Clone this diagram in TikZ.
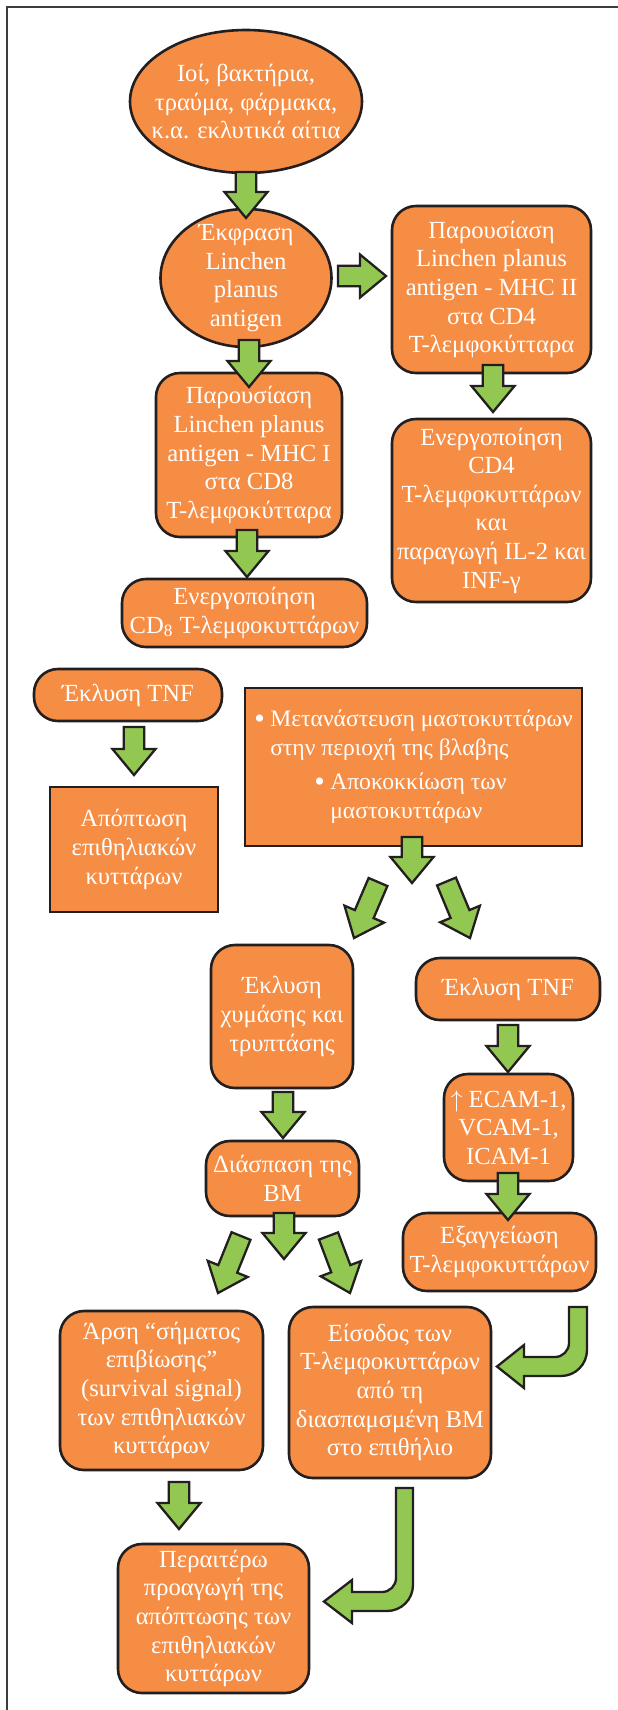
\documentclass[tikz,border=0pt]{standalone}
\usepackage{fontspec}
\setmainfont{Liberation Serif}
\usetikzlibrary{calc,shapes.geometric}
\definecolor{boxfill}{HTML}{F68D45}
\definecolor{arrfill}{HTML}{92C852}
\definecolor{edgec}{HTML}{231F20}
\definecolor{framec}{HTML}{3C3C3C}
\tikzset{
  txt/.style={text=white, align=center, inner sep=0pt, font=\fontsize{12.3}{14.3}\selectfont},
  rbox/.style={txt, draw=edgec, line width=1.3pt, fill=boxfill, rounded corners=12pt},
  sbox/.style={txt, draw=edgec, line width=1.3pt, fill=boxfill},
  ebox/.style={ellipse, draw=edgec, line width=1.3pt, fill=boxfill, inner sep=0pt},
  barrowsty/.style={draw=edgec, line width=1.15pt, fill=arrfill, line join=miter},
  framesty/.style={draw=framec, line width=1pt},
}
\newcommand\bul{\makebox[8pt][l]{\raisebox{-0.15ex}{\fontsize{15}{15}\selectfont\textbullet}}}
% box: style, name, x1, y1, x2, y2, text
\newcommand\bx[7]{\node[#1, minimum width={(#5-#3)*0.5pt}, minimum height={(#6-#4)*0.5pt}] (#2) at ({(#3+#5)/2},{(#4+#6)/2}) {#7};}
% block arrow: name, tail, tip
\newcommand\barr[3]{%
  \coordinate (#1t) at (#2);
  \coordinate (#1h) at (#3);
  \coordinate (#1b) at ($(#1h)!13pt!(#1t)$);
  \draw[barrowsty] ($(#1t)!5.1pt!90:(#1h)$) -- ($(#1b)!5.1pt!90:(#1h)$) -- ($(#1b)!10.75pt!90:(#1h)$) -- (#1h)
    -- ($(#1b)!10.75pt!-90:(#1h)$) -- ($(#1b)!5.1pt!-90:(#1h)$) -- ($(#1t)!5.1pt!-90:(#1h)$) -- cycle;}
\begin{document}
\begin{tikzpicture}[x=0.5pt, y=-0.5pt]
\useasboundingbox (0,0) rectangle (617,1710);
\fill[white] (0,0) rectangle (617,1710);
\draw[framesty] (7,1715) -- (7,7) -- (622,7);

% ellipses
\node[ebox, minimum width=116pt, minimum height=71.5pt,
  label={[txt]center:{Ιοί, βακτήρια,\\τραύμα, φάρμακα,\\κ.α. εκλυτικά αίτια}}] (e1) at (246,101.5) {};
\node[ebox, minimum width=85.5pt, minimum height=69pt,
  label={[txt]center:{Έκφραση\\Linchen\\planus\\antigen}}] (e2) at (246,278) {};

% boxes
\bx{rbox}{r1}{392}{206}{591}{373}{Παρουσίαση\\Linchen planus\\antigen - MHC II\\στα CD4\\T-λεμφοκύτταρα}
\bx{rbox}{r2}{392}{419}{591}{602}{Ενεργοποίηση\\CD4\\T-λεμφοκυττάρων\\και\\παραγωγή IL-2 και\\INF-γ}
\bx{rbox}{l1}{156}{373}{342}{537}{Παρουσίαση\\Linchen planus\\antigen - MHC I\\στα CD8\\T-λεμφοκύτταρα}
\bx{rbox}{l2}{122}{579}{367}{647}{Ενεργοποίηση\\CD\textsubscript{8} T-λεμφοκυττάρων}
\bx{rbox}{tnfl}{34}{669}{222}{721}{Έκλυση TNF}
\bx{sbox}{apo}{50}{787}{218}{912}{Απόπτωση\\επιθηλιακών\\κυττάρων}
\bx{sbox, align=left, font=\fontsize{11.8}{14.5}\selectfont}{mast}{245}{688}{582}{846}{\bul Μετανάστευση μαστοκυττάρων\\
\hspace*{8pt}στην περιοχή της βλαβης\\[2.5pt]
\hspace*{30pt}\bul Αποκοκκίωση των\\
\hspace*{38pt}μαστοκυττάρων}
\bx{rbox}{chy}{211}{945}{353}{1088}{Έκλυση\\χυμάσης και\\τρυπτάσης}
\bx{rbox}{tnfr}{416}{958}{600}{1020}{Έκλυση TNF}
\bx{rbox}{ecam}{444}{1074}{573}{1181}{$\uparrow$ ECAM-1,\\VCAM-1,\\ICAM-1}
\bx{rbox}{exag}{403}{1213}{596}{1291}{Εξαγγείωση\\T-λεμφοκυττάρων}
\bx{rbox}{dias}{206}{1141}{359}{1216}{Διάσπαση της\\BM}
\bx{rbox}{arsi}{60}{1311}{263}{1470}{Άρση “σήματος\\επιβίωσης”\\(survival signal)\\των επιθηλιακών\\κυττάρων}
\bx{rbox}{eis}{289}{1307}{491}{1478}{Είσοδος των\\T-λεμφοκυττάρων\\από τη\\διασπαμσμένη BM\\στο επιθήλιο}
\bx{rbox}{per}{118}{1544}{309}{1693}{Περαιτέρω\\προαγωγή της\\απόπτωσης των\\επιθηλιακών\\κυττάρων}

% block arrows
\barr{a1}{246,172}{246,218}
\barr{a2}{338,276}{386,276}
\barr{a3}{493,365}{493,412}
\barr{a4}{249,340}{249,387}
\barr{a5}{247,530}{247,577}
\barr{a6}{134,727}{134,775}
\barr{a7}{412,837}{412,883}
\barr{a8}{378,882}{354,938}
\barr{a9}{446.5,881.5}{470,938}
\barr{a10}{508,1025}{508,1072}
\barr{a11}{508,1173}{508,1220}
\barr{a12}{283,1092}{283,1138}
\barr{a13}{284,1213}{284,1259}
\barr{a14}{241,1236}{218,1293}
\barr{a15}{328.5,1236}{350,1293}
\barr{a16}{179,1482}{179,1529}

% curved block arrows
\draw[barrowsty] (569,1307) -- (587,1307) -- (587,1350)
  .. controls (587,1364.4) and (575.4,1376) .. (561,1376) -- (524,1376) -- (524,1388)
  -- (497,1366.5) -- (524,1345) -- (524,1357) -- (555,1357)
  .. controls (562.7,1357) and (569,1350.7) .. (569,1343) -- cycle;
\draw[barrowsty] (396,1488) -- (413,1488) -- (413,1585)
  .. controls (413,1599.4) and (401.4,1611) .. (387,1611) -- (352,1611) -- (352,1623)
  -- (324,1601.5) -- (352,1580) -- (352,1592) -- (382,1592)
  .. controls (389.7,1592) and (396,1585.7) .. (396,1578) -- cycle;
\end{tikzpicture}
\end{document}
